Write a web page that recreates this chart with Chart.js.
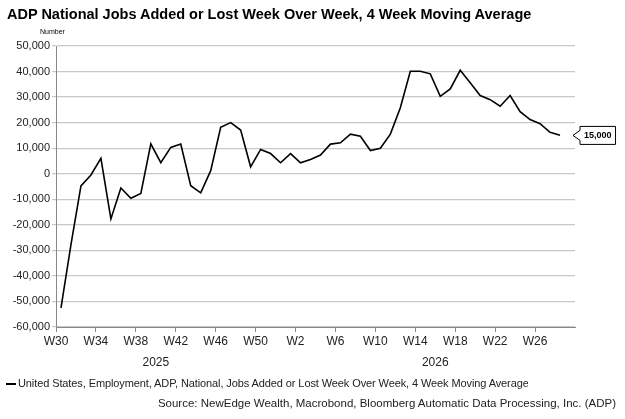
<!DOCTYPE html>
<html><head><meta charset="utf-8">
<script src="https://cdn.jsdelivr.net/npm/chart.js@4"></script>
<style>
body{margin:0;width:625px;height:419px;background:#fff;font-family:"Liberation Sans",Arial,sans-serif;position:relative;overflow:hidden}
#c{position:absolute;left:0;top:0}
.t{position:absolute;white-space:nowrap}
</style></head><body>
<canvas id="c" width="625" height="419"></canvas>
<div class="t" style="left:7px;top:6px;font-size:14.5px;font-weight:bold;color:#000">ADP National Jobs Added or Lost Week Over Week, 4 Week Moving Average</div>
<div class="t" style="left:40px;top:28px;font-size:7px;color:#000">Number</div>
<div class="t" style="left:6px;top:377px;width:522px;overflow:hidden;font-size:11px;letter-spacing:-0.1px;color:#222"><span style="display:inline-block;width:10px;height:2px;background:#000;vertical-align:middle;margin-right:2px"></span>United States, Employment, ADP, National, Jobs Added or Lost Week Over Week, 4 Week Moving Average</div>
<div class="t" style="right:9px;top:397px;font-size:11.5px;color:#222">Source: NewEdge Wealth, Macrobond, Bloomberg Automatic Data Processing, Inc. (ADP)</div>
<script>
const weekLabels = [];
for (let i = 0; i < 52; i++) weekLabels.push('W' + (((29 + i) % 52) + 1));
const values = [-52500,-27800,-4800,-500,6000,-17700,-5600,-9600,-7700,11700,4300,10300,11600,-4700,-7500,1200,18200,20000,17100,2700,9500,7900,4300,7900,4300,5600,7300,11600,12100,15500,14700,9100,10000,15500,25800,40100,40100,39100,30300,33200,40500,35600,30600,29000,26400,30600,24300,21200,19600,16200,15100];
const yearLabels = [{text:'2025', at:10},{text:'2026', at:38}];
const lastLabel = '15,000';
const pts = values.map((v,i)=>({x:i+0.5,y:v}));
const extras = {
  id:'extras',
  afterDraw(ch){
    const c=ch.ctx, xs=ch.scales.x, ys=ch.scales.y;
    c.save();
    c.fillStyle='#222'; c.font='12px "Liberation Sans", Arial'; c.textAlign='center'; c.textBaseline='top';
    yearLabels.forEach(y=>c.fillText(y.text, xs.getPixelForValue(y.at), ys.bottom+30));
    const yy = ys.getPixelForValue(15000), x0 = 573;
    c.font='bold 9px "Liberation Sans", Arial';
    const w = c.measureText(lastLabel).width + 8;
    c.beginPath();
    c.moveTo(x0, yy); c.lineTo(x0+7, yy-5); c.lineTo(x0+7, yy-9); c.lineTo(x0+7+w, yy-9);
    c.lineTo(x0+7+w, yy+9); c.lineTo(x0+7, yy+9); c.lineTo(x0+7, yy+5); c.closePath();
    c.fillStyle='#fff'; c.fill(); c.strokeStyle='#000'; c.lineWidth=1; c.stroke();
    c.fillStyle='#000'; c.textAlign='left'; c.textBaseline='middle';
    c.fillText(lastLabel, x0+11, yy+0.5);
    c.restore();
  }
};
new Chart(document.getElementById('c'),{
  type:'line',
  data:{datasets:[{data:pts,borderColor:'#000',borderWidth:1.6,pointRadius:0,tension:0,fill:false}]},
  options:{
    responsive:false,animation:false,
    layout:{padding:{top:46,right:50,bottom:52,left:0}},
    plugins:{legend:{display:false},tooltip:{enabled:false}},
    scales:{
      x:{type:'linear',min:0,max:52,
        afterFit:s=>{s.height=40;},
        afterBuildTicks:s=>{s.ticks=[];for(let v=0;v<=48;v+=4)s.ticks.push({value:v});},
        grid:{display:true,drawOnChartArea:false,drawTicks:true,tickLength:5,color:'#888'},
        border:{color:'#888'},
        ticks:{autoSkip:false,maxRotation:0,padding:2,color:'#222',font:{family:'"Liberation Sans", Arial',size:12},callback:v=>weekLabels[v]}},
      y:{min:-60000,max:50000,
        afterFit:s=>{s.width=56;},
        afterBuildTicks:s=>{s.ticks=[];for(let v=-60000;v<=50000;v+=10000)s.ticks.push({value:v});},
        grid:{color:'#c8c8c8',lineWidth:1.2,tickLength:4,drawTicks:true},
        border:{color:'#888'},
        ticks:{padding:2,color:'#222',font:{family:'"Liberation Sans", Arial',size:11},callback:v=>v.toLocaleString('en-US')}}
    }
  },
  plugins:[extras]
});
</script></body></html>
